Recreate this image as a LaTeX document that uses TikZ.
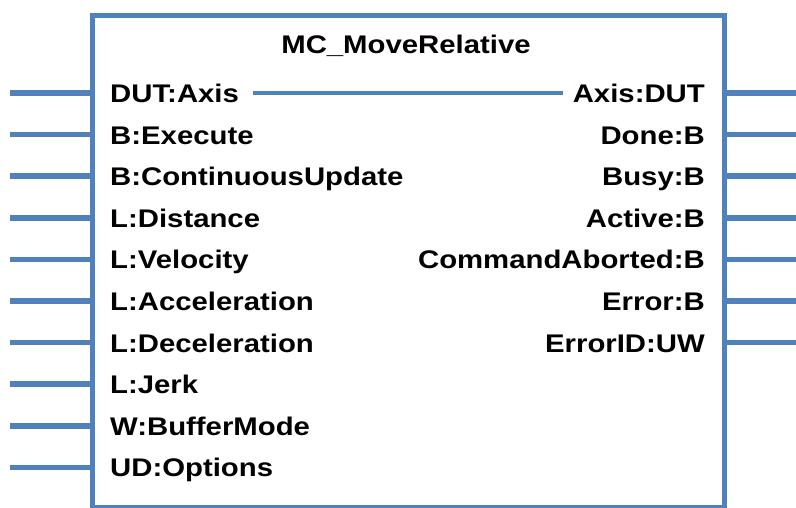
\documentclass[tikz,border=0pt]{standalone}
\usepackage{fontspec}
\setmainfont{Liberation Sans}[FakeStretch=1.15]
\usepackage{tikz}
\usetikzlibrary{calc}
\definecolor{fbblue}{HTML}{4F81BD}
\tikzset{wire/.style={fbblue, line width=5.5pt},
         fbbox/.style={draw=fbblue, line width=4.5pt, inner sep=0pt},
         lbl/.style={font=\fontsize{25.5}{30}\selectfont\bfseries, inner sep=0pt}}

\begin{document}
\begin{tikzpicture}  [x=1pt,y=-1pt]
\useasboundingbox (0,0) rectangle (796,507);
\node[fbbox, minimum width=632pt, minimum height=492pt, anchor=north west] (fb) at (90,13) {};
\node[lbl, anchor=base] (title) at (406,53.5) {MC\_MoveRelative};
% inputs
\foreach \name [count=\i from 0] in {DUT:Axis, B:Execute, B:ContinuousUpdate, L:Distance, L:Velocity, L:Acceleration, L:Deceleration, L:Jerk, W:BufferMode, UD:Options} {
 \coordinate (li\i) at (10,93+41.6*\i);
 \node[lbl, anchor=base west] (in\i) at (110,102.5+41.6*\i) {\name};
 \draw[wire] (li\i) -- (li\i -| fb.west);
}
% outputs
\foreach \name [count=\i from 0] in {Axis:DUT, Done:B, Busy:B, Active:B, CommandAborted:B, Error:B, ErrorID:UW} {
 \coordinate (ro\i) at (796,93+41.6*\i);
 \node[lbl, anchor=base east] (out\i) at (705,102.5+41.6*\i) {\name};
 \draw[wire] (ro\i -| fb.east) -- (ro\i);
}
\draw[wire, line width=4.5pt] ($(in0.east |- li0)+(14,0)$) -- ($(out0.west |- li0)+(-10,0)$);
\end{tikzpicture}
\end{document}
